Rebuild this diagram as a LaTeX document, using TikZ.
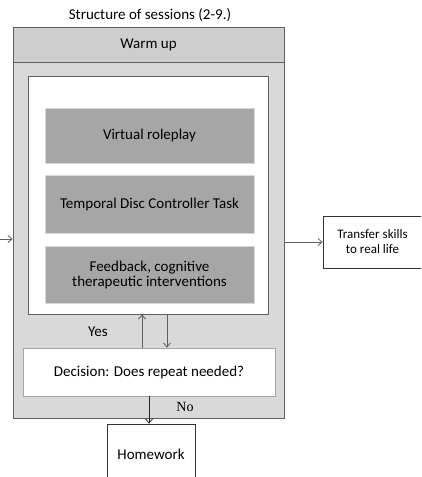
\documentclass[tikz,border=0pt]{standalone}
\usepackage{fontspec}
\setmainfont{Carlito}
\newfontfamily\nofont{Liberation Serif}
\usepackage{xcolor}
\usepackage{tikz}
\usetikzlibrary{positioning,arrows.meta}

\definecolor{panelgray}{HTML}{D9D9D9}
\definecolor{stepgray}{HTML}{A6A6A6}
\definecolor{edgegray}{HTML}{5F5F5F}

\begin{document}
\begin{tikzpicture}[x=1pt, y=-1pt, every node/.style={font=\fontsize{15}{17}\selectfont}]
  % Styles
  \tikzstyle{panel}=[rectangle, draw=edgegray, fill=panelgray, line width=0.9pt, minimum width=271, minimum height=391, inner sep=0]
  \tikzstyle{band}=[rectangle, draw=edgegray, fill=panelgray!95!black, line width=0.9pt, minimum width=271, minimum height=35]
  \tikzstyle{corebox}=[rectangle, draw=edgegray, fill=white, line width=0.9pt, minimum width=240, minimum height=238]
  \tikzstyle{stepbox}=[rectangle, draw=white!85!black, fill=stepgray, line width=0.8pt, minimum width=209, align=center]
  \tikzstyle{decide}=[rectangle, draw=gray!70, fill=white, line width=0.8pt, minimum width=252, minimum height=48]
  \tikzstyle{endbox}=[rectangle, draw=black!80, fill=white, line width=0.8pt, align=center]
  \tikzstyle{flow}=[-{Straight Barb[length=4pt,width=7pt]}, draw=edgegray, line width=0.8pt]

  \clip (0,0) rectangle (421,477);

  % Title
  \node (title) at (150,15) {Structure of sessions (2-9.)};

  % Session frame
  \node[panel] (frame) at (148.5,222.5) {};
  \node[band] (warm) at (148.5,44.5) {Warm up};
  \node[corebox] (core) at (148,195) {};

  % Steps inside
  \node[stepbox, minimum height=55] (roleplay) at (149.5,135.5) {Virtual roleplay};
  \node[stepbox, minimum height=58, below=12pt of roleplay] (tdct) {Temporal Disc Controller Task};
  \node[stepbox, minimum height=57, below=12pt of tdct] (feedback) {Feedback, cognitive\\[-2pt]therapeutic interventions};

  % Decision
  \node[decide] (decision) at (149,372) {Decision: Does repeat needed?};
  \node (yes) at (98,332) {Yes};
  \node[font=\nofont\fontsize{14}{16}\selectfont] (no) at (185,407) {No};

  % Outcomes
  \node[endbox, minimum width=88, minimum height=60] (homework) at (151,454) {Homework};
  \node[endbox, minimum width=99, minimum height=52, font=\fontsize{13}{15}\selectfont] (transfer) at (372.5,242) {Transfer skills\\to real life};

  % Arrows
  \coordinate (entry) at (0,239);
  \draw[flow] (entry) -- (entry -| frame.west);
  \draw[flow] (frame.east |- transfer.west) -- (transfer.west);
  \draw[flow] ([xshift=-6]core.south |- decision.north) -- ([xshift=-6]core.south);
  \draw[flow] ([xshift=19]core.south) -- ([xshift=19]core.south |- decision.north);
  \draw[flow, draw=black!85] (decision.south) -- (decision.south |- homework.north);
\end{tikzpicture}
\end{document}
